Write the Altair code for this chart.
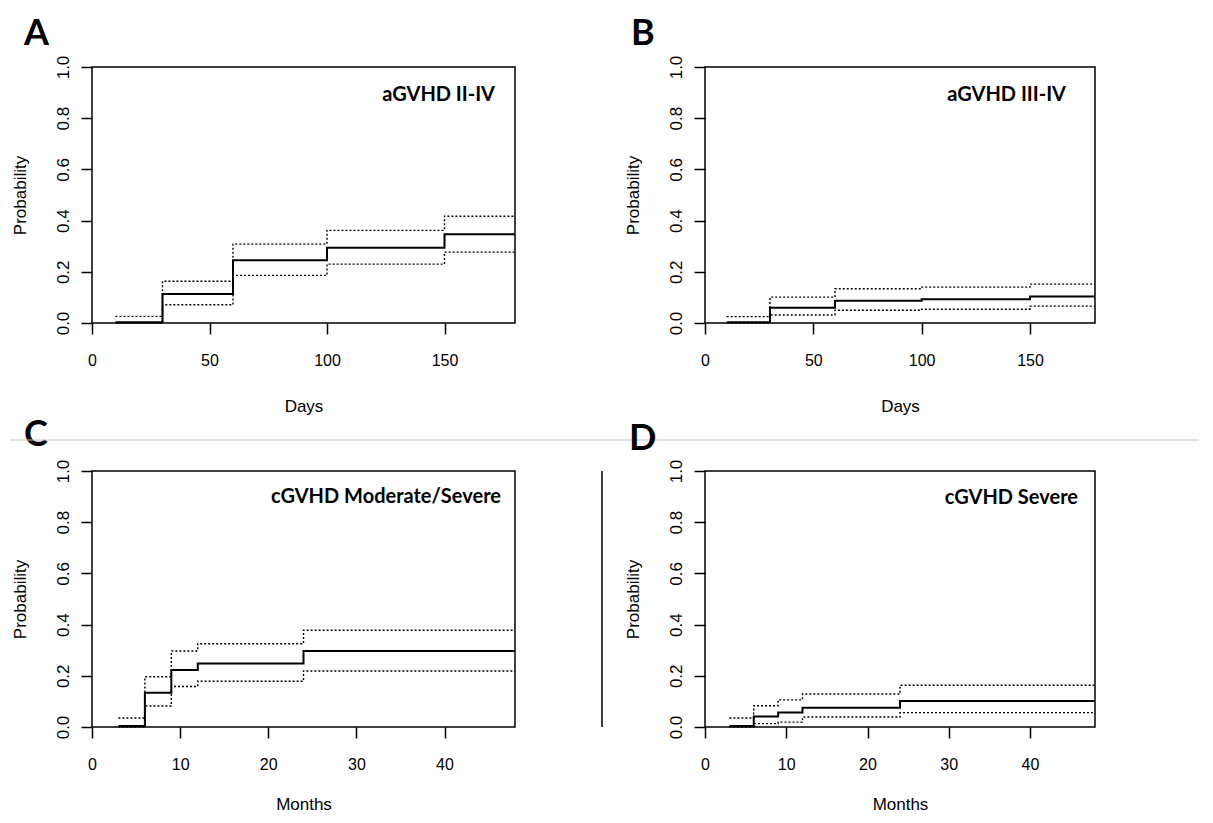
import altair as alt
import pandas as pd

# ---------------- data ----------------
days = [10, 30, 60, 100, 150, 180]
months = [3, 6, 9, 12, 24, 48]

a_est = [0.003, 0.113, 0.245, 0.294, 0.347, 0.347]
a_up = [0.026, 0.163, 0.308, 0.362, 0.417, 0.417]
a_lo = [0.0, 0.071, 0.186, 0.230, 0.277, 0.277]

b_est = [0.003, 0.060, 0.087, 0.093, 0.104, 0.104]
b_up = [0.025, 0.101, 0.134, 0.140, 0.152, 0.152]
b_lo = [0.0, 0.031, 0.050, 0.054, 0.066, 0.066]

c_est = [0.004, 0.134, 0.223, 0.248, 0.297, 0.297]
c_up = [0.035, 0.196, 0.297, 0.325, 0.378, 0.378]
c_lo = [0.0, 0.082, 0.158, 0.179, 0.219, 0.219]

d_est = [0.004, 0.041, 0.057, 0.075, 0.102, 0.102]
d_up = [0.035, 0.083, 0.106, 0.129, 0.163, 0.163]
d_lo = [0.0, 0.013, 0.019, 0.039, 0.056, 0.056]

panel_titles = ["aGVHD II-IV", "aGVHD III-IV", "cGVHD Moderate/Severe", "cGVHD Severe"]
panel_letters = ["A", "B", "C", "D"]
x_titles = ["Days", "Days", "Months", "Months"]
day_ticks = [0, 50, 100, 150]
month_ticks = [0, 10, 20, 30, 40]
y_ticks = [0.0, 0.2, 0.4, 0.6, 0.8, 1.0]

LABEL_FONT = "Liberation Sans"
H = 256


def panel(times, est, up, lo, xmax, xticks, xtitle, xtitle_y, title, letter, w,
          letter_dx, letter_dy, title_dx, title_dy, extras=()):
    rows = []
    for name, vals in (("est", est), ("up", up), ("lo", lo)):
        for t, v in zip(times, vals):
            rows.append({"t": t, "p": v, "series": name})
    df = pd.DataFrame(rows)

    xenc = alt.X(
        "t:Q",
        scale=alt.Scale(domain=[0, xmax], nice=False, zero=False),
        axis=alt.Axis(values=xticks, title=xtitle, titleY=xtitle_y,
                      titleBaseline="top", labelPadding=18, labelFlush=False,
                      labelOverlap=False),
    )
    yenc = alt.Y(
        "p:Q",
        scale=alt.Scale(domain=[0, 1], nice=False, zero=False),
        axis=alt.Axis(values=y_ticks, format=".1f", title="Probability",
                      labelAngle=270, labelAlign="center", labelBaseline="bottom",
                      labelPadding=9, labelFlush=False, labelOverlap=False,
                      labelFontSize=17,
                      titleX=-63, titleAngle=270, titleBaseline="bottom",
                      titleAlign="center"),
    )
    base = alt.Chart(df).encode(x=xenc, y=yenc, detail="series:N")
    est_line = base.transform_filter(alt.datum.series == "est").mark_line(
        interpolate="step-after", color="black", strokeWidth=2)
    ci_line = base.transform_filter(alt.datum.series != "est").mark_line(
        interpolate="step-after", color="black", strokeWidth=1.4, strokeDash=[2, 2])

    tdf = pd.DataFrame({"label": [title]})
    ttl = alt.Chart(tdf).mark_text(
        align="right", baseline="alphabetic", font="Lato", fontWeight="bold",
        fontSize=20, color="black").encode(
        text="label:N", x=alt.value(w - title_dx), y=alt.value(title_dy))

    ldf = pd.DataFrame({"label": [letter]})
    let = alt.Chart(ldf).mark_text(
        align="left", baseline="alphabetic", font="Lato", fontWeight="bold",
        fontSize=36, color="black").encode(
        text="label:N", x=alt.value(letter_dx), y=alt.value(letter_dy))

    layers = [est_line, ci_line, ttl, let] + list(extras)
    return alt.layer(*layers).properties(width=w, height=H)


sep_df = pd.DataFrame({"k": [0]})
sep_line = alt.Chart(sep_df).mark_rule(color="#c4c4c4", strokeWidth=1).encode(
    x=alt.value(-82), x2=alt.value(1107), y=alt.value(-31))
edge_line = alt.Chart(sep_df).mark_rule(color="black", strokeWidth=1.5).encode(
    x=alt.value(510), y=alt.value(0), y2=alt.value(H))

pA = panel(days, a_est, a_up, a_lo, 180, day_ticks, x_titles[0], 75,
           panel_titles[0], panel_letters[0], 423, -68, -22, 20, 34)
pB = panel(days, b_est, b_up, b_lo, 180, day_ticks, x_titles[1], 75,
           panel_titles[1], panel_letters[1], 390, -74, -22, 29, 34)
pC = panel(months, c_est, c_up, c_lo, 48, month_ticks, x_titles[2], 69,
           panel_titles[2], panel_letters[2], 423, -68, -25, 14, 32,
           extras=(sep_line, edge_line))
pD = panel(months, d_est, d_up, d_lo, 48, month_ticks, x_titles[3], 69,
           panel_titles[3], panel_letters[3], 390, -76, -21, 17, 33)

chart = alt.concat(
    pA, pB, pC, pD, columns=2, spacing={"row": 148, "column": 190}, bounds="flush"
).properties(
    padding={"left": 0, "top": 7, "right": 0, "bottom": 0},
    background="white",
).configure_view(
    stroke="black", strokeWidth=1.5
).configure_axis(
    domain=False, grid=False, ticks=True, tickColor="black", tickWidth=1.5,
    tickSize=11, labelFont=LABEL_FONT, labelFontSize=16, labelColor="black",
    titleFont=LABEL_FONT, titleFontSize=17, titleFontWeight="normal",
    titleColor="black"
)

chart.save("out.html", embed_options={"renderer": "svg", "actions": False})
